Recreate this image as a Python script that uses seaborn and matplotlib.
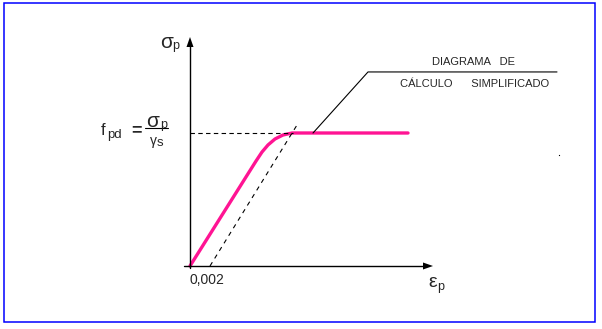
import matplotlib
matplotlib.use("Agg")
import matplotlib.pyplot as plt
import seaborn as sns
import pandas as pd
from matplotlib.patches import Rectangle, Polygon

sns.set_theme(style="white")
plt.rcParams['font.family'] = ['Liberation Sans', 'DejaVu Sans']

# --- data (strain, normalised stress: fpd = 1) ---
curve_strain = [0.0, 0.0066, 0.0072, 0.0078, 0.0085, 0.0093, 0.0102, 0.0218]
curve_stress = [0.0, 0.789, 0.857, 0.910, 0.955, 0.985, 1.0, 1.0]
offset_strain = [0.002, 0.0107]
offset_stress = [0.0, 1.06]
fpd_strain = [0.0, 0.0103]
fpd_stress = [1.0, 1.0]
leader_strain = [0.0123, 0.0178, 0.0367]
leader_stress = [1.0, 1.459, 1.459]
tick_label = "0,002"
annot_line1 = "DIAGRAMA   DE"
annot_line2 = "CÁLCULO      SIMPLIFICADO"

W, H = 602, 329
fig = plt.figure(figsize=(W / 100, H / 100), dpi=100)
ax = fig.add_axes([0, 0, 1, 1])
ax.set_xlim(-0.019, 0.0412)
ax.set_ylim(-0.4737, 2.0)
ax.axis("off")

def px(x, y):
    return (x - 190) / 10000.0, (266 - y) / 133.0

# border
fig.patches.append(Rectangle((4.0 / W, 1 - 322.0 / H), 591.0 / W, 319.0 / H,
                             transform=fig.transFigure, fill=False,
                             edgecolor="#0000FF", linewidth=1.1))

df = pd.DataFrame({"strain": curve_strain, "stress": curve_stress})
sns.lineplot(data=df, x="strain", y="stress", ax=ax, color="#FF1493",
             linewidth=2.4, sort=False, estimator=None)

ax.plot(offset_strain, offset_stress, color="black", lw=0.8, ls=(0, (4, 4)))
ax.plot(fpd_strain, fpd_stress, color="black", lw=0.8, ls=(0, (4, 3)))
ax.plot(leader_strain, leader_stress, color="black", lw=0.8)

# axes with arrows
x0, y0 = px(184, 266)
x1, _ = px(424, 266)
ax.plot([x0, x1], [0, 0], color="black", lw=1.0)
ax.add_patch(Polygon([px(423, 262.5), px(433, 266), px(423, 269.5)], closed=True,
                     color="black", lw=0))
ax.plot([0, 0], [px(0, 268)[1], px(0, 46)[1]], color="black", lw=1.0)
ax.add_patch(Polygon([px(186.5, 47), px(190, 37), px(193.5, 47)], closed=True,
                     color="black", lw=0))

# labels
def T(x, y, s, size, **kw):
    ax.text(*px(x, y), s, fontsize=size, va="center", **kw)

T(160, 43, "σ", 15, ha="left")
T(172, 46, "p", 9, ha="left")

T(101, 131, "f", 12, ha="left")
T(107, 135, "pd", 9.5, ha="left")
T(131, 131, "=", 13, ha="left", fontweight="bold")
T(146, 122, "σ", 15, ha="left")
T(160, 125, "p", 9, ha="left")
ax.plot([px(145, 0)[0], px(168, 0)[0]], [px(0, 128.5)[1]] * 2, color="black", lw=0.8)
T(150, 141, "γ", 10, ha="left")
T(157, 143, "s", 9.5, ha="left")

T(190, 280, tick_label, 10, ha="left")
T(428, 283, "ε", 14, ha="left")
T(437, 287, "p", 9, ha="left")

T(473, 62, annot_line1, 8.0, ha="center")
T(475, 84, annot_line2, 8.0, ha="center")

ax.plot(*px(559, 155), marker="s", ms=0.8, mew=0, color="black")

fig.savefig("out.png", dpi=100)
